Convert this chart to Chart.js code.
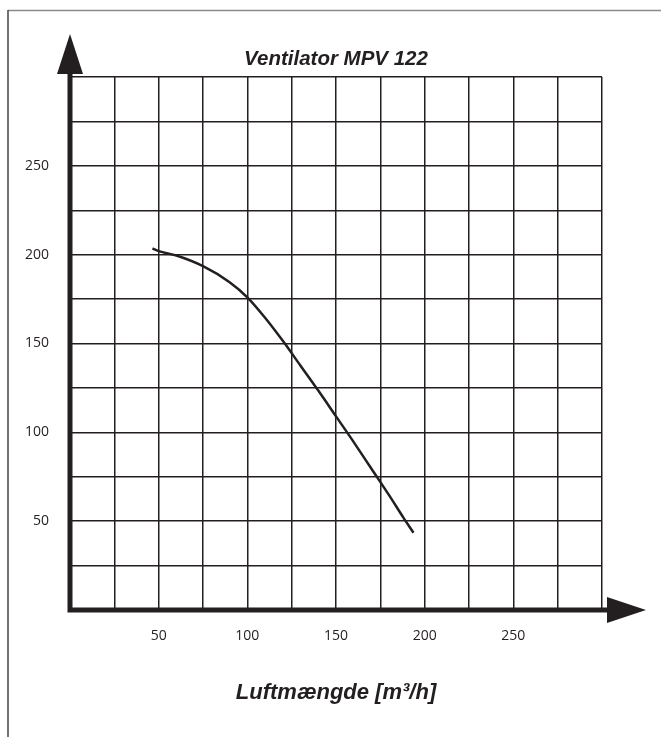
<!DOCTYPE html>
<html>
<head>
<meta charset="utf-8">
<script src="https://cdn.jsdelivr.net/npm/chart.js@4.4.1/dist/chart.umd.min.js"></script>
<style>
  html, body { margin: 0; padding: 0; background: #ffffff; }
  #wrap { width: 661px; height: 737px; position: relative; }
</style>
</head>
<body>
<div id="wrap"><canvas id="fan"></canvas></div>
<script>
// curve: air flow [m3/h] vs pressure
var flowX = [46.5, 50, 60, 75, 90, 100, 110, 120, 130, 140, 150, 160, 170, 180, 188, 193.7];
var pressY = [203.5, 202, 199.5, 193.5, 184.5, 176, 164.5, 151.5, 137.5, 123.5, 109, 94.5, 79.5, 64.5, 52, 43.5];

var xTickLabels = [50, 100, 150, 200, 250];
var yTickLabels = [50, 100, 150, 200, 250];

var chartTitle = "Ventilator MPV 122";
var xTitle = "Luftmængde [m³/h]";

var ink = "#231f20";

var points = [];
for (var i = 0; i < flowX.length; i++) {
    points.push({ x: flowX[i], y: pressY[i] });
}

// frame, thick axes and arrow heads
var axisArrows = {
    id: "axisArrows",
    beforeDraw: function(chart) {
        var c = chart.ctx;
        c.save();
        c.fillStyle = "#ffffff";
        c.fillRect(0, 0, chart.width, chart.height);
        c.lineWidth = 1.5;
        c.strokeStyle = "#8a8a8a";
        c.beginPath();
        c.moveTo(8, 10.5);
        c.lineTo(chart.width, 10.5);
        c.stroke();
        c.strokeStyle = "#444444";
        c.beginPath();
        c.moveTo(8, 10);
        c.lineTo(8, chart.height);
        c.stroke();
        c.restore();
    },
    afterDatasetsDraw: function(chart) {
        var a = chart.chartArea;
        var c = chart.ctx;
        var x0 = chart.scales.x.getPixelForValue(0);
        var y0 = chart.scales.y.getPixelForValue(0);
        c.save();
        c.strokeStyle = ink;
        c.fillStyle = ink;
        c.lineWidth = 5;
        c.beginPath();
        c.moveTo(x0, y0 + 2.5);
        c.lineTo(x0, a.top - 4);
        c.moveTo(x0 - 2.5, y0);
        c.lineTo(a.right + 6, y0);
        c.stroke();

        c.beginPath();
        c.moveTo(x0, a.top - 43);
        c.lineTo(x0 - 13, a.top - 3);
        c.lineTo(x0 + 13, a.top - 3);
        c.closePath();
        c.fill();

        c.beginPath();
        c.moveTo(a.right + 44, y0);
        c.lineTo(a.right + 5, y0 - 13);
        c.lineTo(a.right + 5, y0 + 13);
        c.closePath();
        c.fill();
        c.restore();
    }
};

new Chart(document.getElementById("fan").getContext("2d"), {
    type: "scatter",
    data: {
        datasets: [{
            data: points,
            showLine: true,
            borderColor: ink,
            borderWidth: 2.5,
            pointRadius: 0,
            cubicInterpolationMode: "monotone",
            fill: false
        }]
    },
    options: {
        responsive: true,
        maintainAspectRatio: false,
        animation: false,
        layout: { padding: { left: 0, right: 59, top: 0, bottom: 0 } },
        plugins: {
            legend: { display: false },
            tooltip: { enabled: false },
            title: {
                display: true,
                fullSize: false,
                text: chartTitle,
                color: ink,
                font: { family: "'Liberation Sans', Arial, sans-serif", size: 20.5, style: "italic", weight: "bold", lineHeight: 1.2 },
                padding: { top: 46.7, bottom: 5.7 }
            }
        },
        scales: {
            x: {
                type: "linear",
                min: 0,
                max: 300,
                afterFit: function(scale) { scale.height = 127; },
                ticks: {
                    stepSize: 25,
                    padding: 18,
                    color: "#231f20",
                    font: { family: "'Open Sans', sans-serif", size: 14 },
                    maxRotation: 0,
                    autoSkip: false,
                    callback: function(v) { return xTickLabels.indexOf(v) >= 0 ? String(v) : ""; }
                },
                grid: { color: ink, lineWidth: 1.5, drawTicks: false },
                border: { display: false },
                title: {
                    display: true,
                    text: xTitle,
                    color: ink,
                    font: { family: "'Liberation Sans', Arial, sans-serif", size: 22, style: "italic", weight: "bold", lineHeight: 1.2 },
                    padding: { top: 0, bottom: 31 }
                }
            },
            y: {
                type: "linear",
                min: 0,
                max: 300,
                afterFit: function(scale) { scale.width = 70; },
                ticks: {
                    stepSize: 25,
                    padding: 21,
                    color: "#231f20",
                    font: { family: "'Open Sans', sans-serif", size: 14 },
                    autoSkip: false,
                    callback: function(v) { return yTickLabels.indexOf(v) >= 0 ? String(v) : ""; }
                },
                grid: { color: ink, lineWidth: 1.5, drawTicks: false },
                border: { display: false }
            }
        }
    },
    plugins: [axisArrows]
});
</script>
</body>
</html>
